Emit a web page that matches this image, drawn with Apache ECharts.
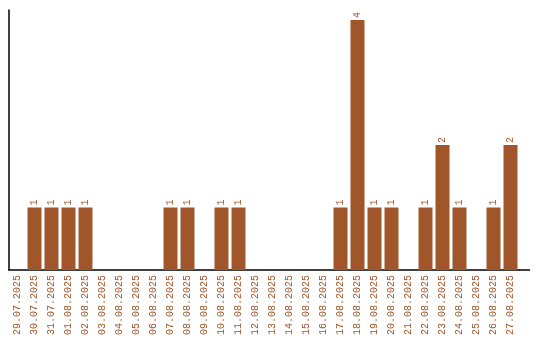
<!DOCTYPE html>
<html><head><meta charset="utf-8">
<script src="https://cdn.jsdelivr.net/npm/echarts@6/dist/echarts.min.js"></script>
<style>html,body{margin:0;padding:0;background:#fff}#c{width:540px;height:340px}</style>
</head><body><div id="c"></div>
<script>
const categories = ["29.07.2025","30.07.2025","31.07.2025","01.08.2025","02.08.2025","03.08.2025","04.08.2025","05.08.2025","06.08.2025","07.08.2025","08.08.2025","09.08.2025","10.08.2025","11.08.2025","12.08.2025","13.08.2025","14.08.2025","15.08.2025","16.08.2025","17.08.2025","18.08.2025","19.08.2025","20.08.2025","21.08.2025","22.08.2025","23.08.2025","24.08.2025","25.08.2025","26.08.2025","27.08.2025"];
const values = [0,1,1,1,1,0,0,0,0,1,1,0,1,1,0,0,0,0,0,1,4,1,1,0,1,2,1,0,1,2];
const color = '#A0562A';
const font = 'Liberation Mono';
const chart = echarts.init(document.getElementById('c'));
chart.setOption({
  animation: false,
  grid: {left: 9, right: 21, top: 10, bottom: 70},
  xAxis: {
    type: 'category', data: categories,
    axisLine: {lineStyle: {color: '#000', width: 1.5}},
    axisTick: {show: false},
    axisLabel: {rotate: 90, interval: 0, color: color, fontFamily: font, fontSize: 10, margin: 5}
  },
  yAxis: {
    type: 'value', min: 0, max: 4.16,
    axisLine: {show: true, lineStyle: {color: '#000', width: 1.5}},
    axisTick: {show: false}, axisLabel: {show: false}, splitLine: {show: false}
  },
  series: [{
    type: 'bar', data: values.map(v => v === 0 ? null : v), barWidth: 14,
    itemStyle: {color: color},
    label: {show: true, position: 'top', rotate: 90, align: 'left', verticalAlign: 'middle', distance: 2,
      color: color, fontFamily: font, fontSize: 10}
  }],
  graphic: [{type: 'line', shape: {x1: 519, y1: 270, x2: 530, y2: 270}, style: {stroke: '#000', lineWidth: 1.5}}]
});
</script></body></html>
